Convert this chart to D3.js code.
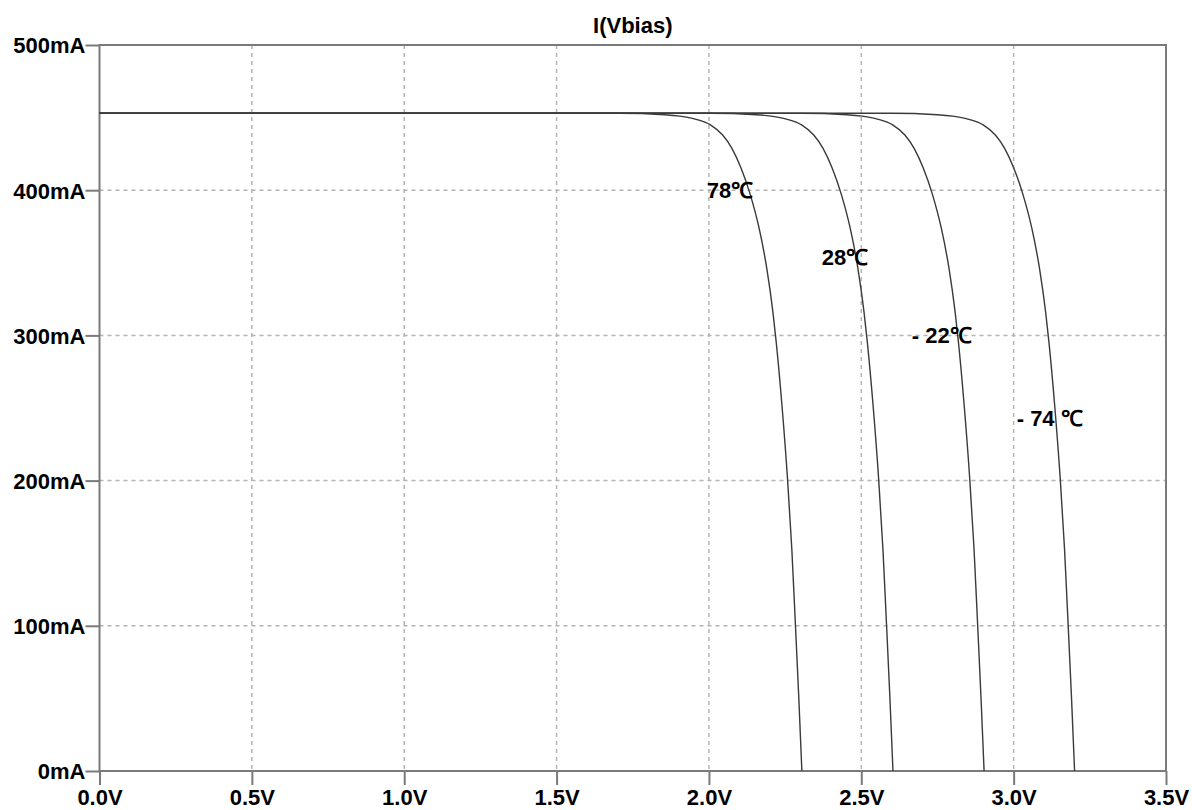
<!DOCTYPE html>
<html>
<head>
<meta charset="utf-8">
<script src="https://cdn.jsdelivr.net/npm/d3@7"></script>
<style>
  html, body { margin: 0; padding: 0; background: #fff; }
  svg { display: block; }
</style>
</head>
<body>
<svg></svg>
<script>
var width = 1192
var height = 810

// tick values
var xTicks = [0, 0.5, 1.0, 1.5, 2.0, 2.5, 3.0, 3.5]
var yTicks = [0, 100, 200, 300, 400, 500]

// curves: [volts, mA]
var curve78 = [[0,453],[1.705,453],[1.855,452],[1.905,451],[1.955,449],[2.005,445],[2.045,438],[2.075,429],[2.105,415.5],[2.135,397.5],[2.165,373.5],[2.190,346],[2.210,316],[2.221,295],[2.240,251],[2.258,201],[2.272,153],[2.284,100],[2.295,50],[2.305,0]]
var curve28 = [[0,453],[2.004,453],[2.154,452],[2.204,451],[2.254,449],[2.304,445],[2.344,438],[2.374,429],[2.404,415.5],[2.434,397.5],[2.464,373.5],[2.489,346],[2.509,316],[2.520,295],[2.539,251],[2.557,201],[2.571,153],[2.583,100],[2.594,50],[2.604,0]]
var curveM22 = [[0,453],[2.303,453],[2.453,452],[2.503,451],[2.553,449],[2.603,445],[2.643,438],[2.673,429],[2.703,415.5],[2.733,397.5],[2.763,373.5],[2.788,346],[2.808,316],[2.819,295],[2.838,251],[2.856,201],[2.870,153],[2.882,100],[2.893,50],[2.903,0]]
var curveM74 = [[0,453],[2.600,453],[2.750,452],[2.800,451],[2.850,449],[2.900,445],[2.940,438],[2.970,429],[3.000,415.5],[3.030,397.5],[3.060,373.5],[3.085,346],[3.105,316],[3.116,295],[3.135,251],[3.153,201],[3.167,153],[3.179,100],[3.190,50],[3.200,0]]
var curves = [curve78, curve28, curveM22, curveM74]

// curve annotations: text and its left/middle point in data units
var labels = ["78℃", "28℃", "- 22℃", "- 74 ℃"]
var labelV = [1.993, 2.370, 2.666, 3.010]
var labelI = [400, 354, 300, 243]

var plotL = 99.5, plotR = 1166, plotT = 45, plotB = 771
var font = "bold 22px 'Liberation Sans', Arial, sans-serif"

var x = d3.scaleLinear().domain([0, 3.5]).range([plotL, plotR])
var y = d3.scaleLinear().domain([0, 500]).range([plotB, plotT])

const svg = d3.select("svg")
	.attr("width", width)
	.attr("height", height)
	.style("font", font)

// grid
svg.append("g")
	.selectAll("line")
	.data(xTicks.slice(1, -1))
	.join("line")
	.attr("x1", d => x(d)).attr("x2", d => x(d))
	.attr("y1", plotT).attr("y2", plotB)
	.attr("stroke", "#b4b4b4")
	.attr("stroke-width", 1.5)
	.attr("stroke-dasharray", "4,4")

svg.append("g")
	.selectAll("line")
	.data(yTicks.slice(1, -1))
	.join("line")
	.attr("y1", d => y(d)).attr("y2", d => y(d))
	.attr("x1", plotL).attr("x2", plotR)
	.attr("stroke", "#b4b4b4")
	.attr("stroke-width", 1.5)
	.attr("stroke-dasharray", "4,4")

// axes
const xAxis = svg.append("g")
	.attr("transform", `translate(0,${plotB})`)
	.call(d3.axisBottom(x).tickValues(xTicks).tickSize(14).tickPadding(4)
		.tickFormat(d => d3.format(".1f")(d) + "V"))
const yAxis = svg.append("g")
	.attr("transform", `translate(${plotL},0)`)
	.call(d3.axisLeft(y).tickValues(yTicks).tickSize(14).tickPadding(0)
		.tickFormat(d => d + "mA"))

;[xAxis, yAxis].forEach(a => {
	a.select(".domain").remove()
	a.selectAll("line").attr("stroke", "#7a7a7a").attr("stroke-width", 2)
	a.selectAll("text")
		.attr("fill", "#000")
		.style("font", font)
})
xAxis.selectAll("text").attr("dy", "0.72em")
yAxis.selectAll("text").attr("dy", "0.36em")

// frame
svg.append("rect")
	.attr("x", plotL).attr("y", plotT)
	.attr("width", plotR - plotL).attr("height", plotB - plotT)
	.attr("fill", "none")
	.attr("stroke", "#7a7a7a")
	.attr("stroke-width", 2)

// curves
const line = d3.line()
	.x(d => x(d[0]))
	.y(d => y(d[1]))
	.curve(d3.curveMonotoneX)

svg.append("g")
	.selectAll("path")
	.data(curves)
	.join("path")
	.attr("d", line)
	.attr("fill", "none")
	.attr("stroke", "#3a3a3a")
	.attr("stroke-width", 1.4)

// curve labels
svg.append("g")
	.selectAll("text")
	.data(labels)
	.join("text")
	.attr("x", (d, i) => x(labelV[i]))
	.attr("y", (d, i) => y(labelI[i]))
	.attr("dy", "0.36em")
	.attr("fill", "#000")
	.text(d => d)

// title
svg.append("text")
	.attr("x", (plotL + plotR) / 2)
	.attr("y", 33)
	.attr("text-anchor", "middle")
	.attr("fill", "#000")
	.text("I(Vbias)")
</script>
</body>
</html>
